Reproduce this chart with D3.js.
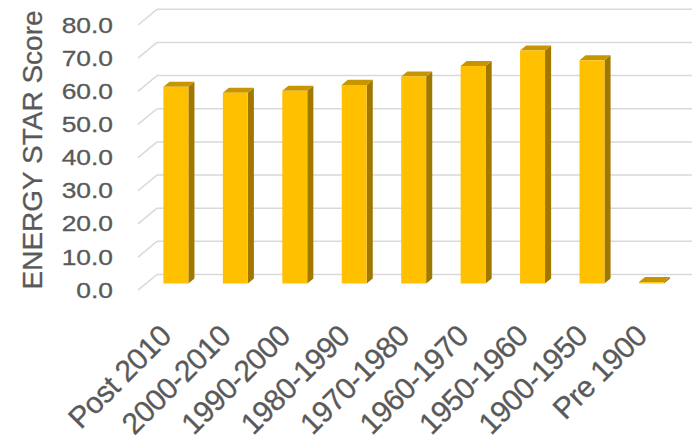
<!DOCTYPE html>
<html>
<head>
<meta charset="utf-8">
<script src="https://cdn.jsdelivr.net/npm/d3@7/dist/d3.min.js"></script>
<style>
  html, body { margin: 0; padding: 0; background: #ffffff; }
  svg { display: block; }
  text { font-family: "Liberation Sans", Arial, Helvetica, sans-serif; fill: #595959;
         stroke: #595959; stroke-width: 0.3px; }
</style>
</head>
<body>
<svg id="chart" width="698" height="448"></svg>
<script>
// Average ENERGY STAR score by construction period
const categories = ["Post 2010", "2000-2010", "1990-2000", "1980-1990", "1970-1980",
                    "1960-1970", "1950-1960", "1900-1950", "Pre 1900"];
const scores = [59.3, 57.5, 58.1, 59.9, 62.4, 65.6, 70.3, 67.3, 0.4];
const tickValues = [0, 10, 20, 30, 40, 50, 60, 70, 80];
const axisTitle = "ENERGY STAR Score";

const svg = d3.select("#chart");

// Oblique 3-D projection: the back wall is the reference plane, and a point
// at depth d (0 = back wall, 1 = front edge of the floor) is shifted by d*depth.
const depth = { dx: -19, dy: 15.7 };
const project = (x, y, d) => [x + depth.dx * d, y + depth.dy * d];

const yBack = d3.scaleLinear().domain([0, 80]).range([274.5, 9.3]);
const xBack = d3.scaleBand().domain(categories).range([157, 692])
  .paddingInner(0.58).paddingOuter(0.29);

// Gridlines on the back wall and their returns along the side wall
const grid = svg.append("g").attr("class", "grid")
  .attr("stroke", "#d9d9d9").attr("stroke-width", 1.5).attr("fill", "none");
grid.selectAll("line.back").data(tickValues).join("line").attr("class", "back")
  .attr("x1", 157).attr("x2", 692)
  .attr("y1", d => yBack(d)).attr("y2", d => yBack(d));
grid.selectAll("line.side").data(tickValues).join("line").attr("class", "side")
  .attr("x1", 157).attr("y1", d => yBack(d))
  .attr("x2", d => project(157, yBack(d), 1)[0])
  .attr("y2", d => project(157, yBack(d), 1)[1]);

// Columns: front face, right side and top, between two depths
const dFront = 0.57, dRear = 0.25;
const colors = { front: "#ffc000", side: "#a07800", top: "#c69500" };
const poly = pts => "M" + pts.map(p => p.join(",")).join("L") + "Z";

const bars = svg.append("g").attr("class", "bars")
  .selectAll("g").data(categories.map((c, i) => ({ c, v: scores[i] }))).join("g");

bars.each(function (d) {
  const g = d3.select(this);
  const x0 = xBack(d.c), x1 = x0 + xBack.bandwidth();
  const yt = yBack(d.v), yb = yBack(0);
  const fTL = project(x0, yt, dFront), fTR = project(x1, yt, dFront);
  const fBR = project(x1, yb, dFront), fBL = project(x0, yb, dFront);
  const rTL = project(x0, yt, dRear), rTR = project(x1, yt, dRear);
  const rBR = project(x1, yb, dRear);
  g.append("path").attr("d", poly([fTR, rTR, rBR, fBR])).attr("fill", colors.side);
  g.append("path").attr("d", poly([fTL, rTL, rTR, fTR])).attr("fill", colors.top);
  g.append("path").attr("d", poly([fTL, fTR, fBR, fBL])).attr("fill", colors.front);
});

// Value axis on the front plane
const yFront = d3.scaleLinear().domain([0, 80])
  .range([yBack(0) + depth.dy, yBack(80) + depth.dy]);
const yAxis = svg.append("g").attr("transform", "translate(113,0)")
  .call(d3.axisLeft(yFront).tickValues(tickValues).tickFormat(d3.format(".1f"))
    .tickSize(0).tickPadding(0));
yAxis.select(".domain").remove();
yAxis.selectAll("text")
  .attr("fill", "#595959").attr("font-size", 22)
  .attr("font-family", "Liberation Sans, Arial, sans-serif")
  .attr("transform", "scale(1.2,1)");

// Category axis with slanted labels
const xFront = xBack.copy().range([157 + depth.dx * dFront, 692 + depth.dx * dFront]);
const xAxis = svg.append("g").attr("transform", "translate(0,335)")
  .call(d3.axisBottom(xFront).tickSize(0).tickPadding(0));
xAxis.select(".domain").remove();
xAxis.selectAll("text")
  .attr("fill", "#595959").attr("font-size", 30)
  .attr("letter-spacing", -0.5)
  .attr("font-family", "Liberation Sans, Arial, sans-serif")
  .attr("x", -4).attr("y", 0).attr("dy", 0)
  .attr("text-anchor", "end")
  .attr("transform", "rotate(-45)");

// Axis title
svg.append("text")
  .attr("transform", "translate(42,150) rotate(-90)")
  .attr("text-anchor", "middle")
  .attr("font-size", 28)
  .text(axisTitle);
</script>
</body>
</html>
